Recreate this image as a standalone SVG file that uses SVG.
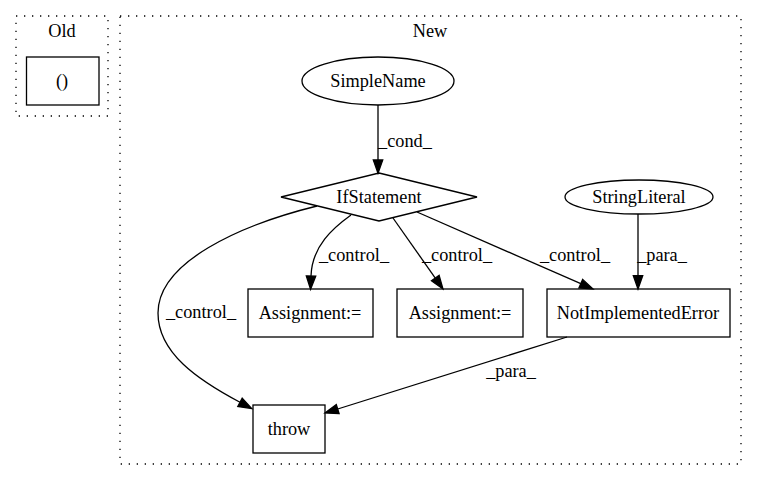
<svg xmlns="http://www.w3.org/2000/svg" width="757" height="480" viewBox="0 0 757 480">
<style>
text{font-family:"Liberation Serif","Times New Roman",serif;font-size:18.3px;fill:#000;text-anchor:middle}
.cl{fill:none;stroke:#000;stroke-width:1.3;stroke-dasharray:1.3,6.7}
.nd{fill:none;stroke:#000;stroke-width:1.3}
.ed{fill:none;stroke:#000;stroke-width:1.3;marker-end:url(#ah)}
</style>
<defs>
<marker id="ah" markerUnits="userSpaceOnUse" markerWidth="14" markerHeight="10" refX="0" refY="4.7" orient="auto" overflow="visible">
<path d="M0,0 L13.3,4.7 L0,9.4 z" fill="#000" stroke="#000" stroke-width="1.3"/>
</marker>
</defs>
<rect width="757" height="480" fill="#fff"/>
<g id="cluster_old">
<rect class="cl" x="16" y="16" width="92" height="100"/>
<text x="62" y="37">Old</text>
</g>
<g id="cluster_new">
<rect class="cl" x="120" y="16" width="621" height="448"/>
<text x="430" y="37">New</text>
</g>
<g id="edges">
<path class="ed" d="M378,105 L378,160"/>
<text x="405" y="147">_cond_</text>
<path class="ed" d="M351,215 C333,228 312,246 311,276"/>
<text x="354" y="261">_control_</text>
<path class="ed" d="M393,218 L435.3,278.1"/>
<text x="457" y="261">_control_</text>
<path class="ed" d="M417,212 L580.8,283.7"/>
<text x="575" y="261">_control_</text>
<path class="ed" d="M317,206 C240,225 158,262 158,313 C158,353 198,380 240,402.3"/>
<text x="201" y="318">_control_</text>
<path class="ed" d="M638,214 L638,275.7"/>
<text x="662" y="261">_para_</text>
<path class="ed" d="M567,337 L337.7,409"/>
<text x="511" y="377">_para_</text>
</g>
<g id="n_old"><rect class="nd" x="26.5" y="57" width="72.5" height="48"/><text x="62" y="87">()</text></g>
<g id="n_simplename"><ellipse class="nd" cx="378" cy="81" rx="76" ry="24"/><text x="378" y="87">SimpleName</text></g>
<g id="n_if"><polygon class="nd" points="379,173 477,197 379,221 281,197"/><text x="379" y="203">IfStatement</text></g>
<g id="n_assign1"><rect class="nd" x="248" y="289" width="125" height="48"/><text x="310" y="319">Assignment:=</text></g>
<g id="n_assign2"><rect class="nd" x="397" y="289" width="126" height="48"/><text x="460" y="319">Assignment:=</text></g>
<g id="n_nie"><rect class="nd" x="547" y="289" width="183" height="48"/><text x="638" y="319">NotImplementedError</text></g>
<g id="n_string"><ellipse class="nd" cx="639" cy="197" rx="74" ry="17"/><text x="639" y="203">StringLiteral</text></g>
<g id="n_throw"><rect class="nd" x="253" y="405" width="72" height="48"/><text x="289" y="435">throw</text></g>
</svg>
